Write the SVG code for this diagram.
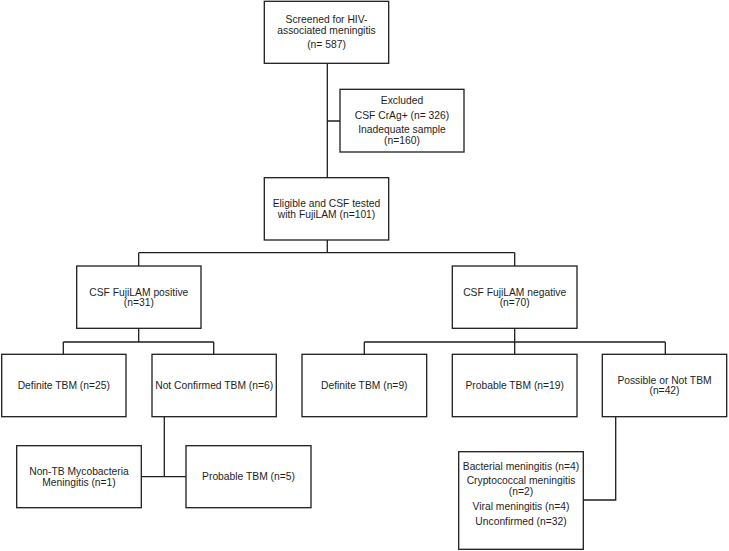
<svg xmlns="http://www.w3.org/2000/svg" width="729" height="551" viewBox="0 0 729 551">
<style>
.box{fill:#fff;stroke:#1e1e1e;stroke-width:1.3}
.ln{fill:none;stroke:#1e1e1e;stroke-width:1.3}
text{font-family:"Liberation Sans",Arial,sans-serif;font-size:10.3px;fill:#1e1e1e;text-anchor:middle}
</style>
<rect width="729" height="551" fill="#fff"/>
<g id="connectors">
<path class="ln" d="M327.3,63.3V177.7M327.3,121H340"/>
<path class="ln" d="M327.3,240V252.7M138.7,252.7H514.7M138.7,252.7V266M514.7,252.7V266"/>
<path class="ln" d="M138.7,328.3V342M63.3,342H213.7M63.3,342V354.3M213.7,342V354.3"/>
<path class="ln" d="M514.7,328.3V354.3M364.3,342H665.3M364.3,342V354.3M665.3,342V354.3"/>
<path class="ln" d="M164.3,416.7V476.7M141.3,476.7H186"/>
<path class="ln" d="M615.7,416.7V500H583.3"/>
</g>
<g id="screened">
<rect class="box" x="264.3" y="1.3" width="124.4" height="62"/>
<text x="326.5" y="23.3">Screened for HIV-</text>
<text x="326.5" y="34">associated meningitis</text>
<text x="326.5" y="48">(n= 587)</text>
</g>
<g id="excluded">
<rect class="box" x="340" y="89.3" width="124" height="62.7"/>
<text x="402" y="104">Excluded</text>
<text x="402" y="119.3">CSF CrAg+ (n= 326)</text>
<text x="402" y="133.3">Inadequate sample</text>
<text x="402" y="143.6">(n=160)</text>
</g>
<g id="eligible">
<rect class="box" x="264.3" y="177.7" width="124.4" height="62.3"/>
<text x="326.5" y="207.3">Eligible and CSF tested</text>
<text x="326.5" y="217.7">with FujiLAM (n=101)</text>
</g>
<g id="positive">
<rect class="box" x="76.7" y="266" width="124.3" height="62.3"/>
<text x="138.8" y="295.7">CSF FujiLAM positive</text>
<text x="138.8" y="305.9">(n=31)</text>
</g>
<g id="negative">
<rect class="box" x="452.3" y="266" width="124.7" height="62.3"/>
<text x="514.7" y="295.7">CSF FujiLAM negative</text>
<text x="514.7" y="305.9">(n=70)</text>
</g>
<g id="definite25">
<rect class="box" x="1.7" y="354.3" width="124.3" height="62.4"/>
<text x="63.8" y="389.3">Definite TBM (n=25)</text>
</g>
<g id="notconfirmed">
<rect class="box" x="152" y="354.3" width="124.3" height="62.4"/>
<text x="214.2" y="389.3">Not Confirmed TBM (n=6)</text>
</g>
<g id="definite9">
<rect class="box" x="302" y="354.3" width="124.7" height="62.4"/>
<text x="364.3" y="389.3">Definite TBM (n=9)</text>
</g>
<g id="probable19">
<rect class="box" x="452.3" y="354.3" width="124.7" height="62.4"/>
<text x="514.7" y="389.3">Probable TBM (n=19)</text>
</g>
<g id="possible">
<rect class="box" x="602.3" y="354.3" width="124.4" height="62.4"/>
<text x="664.5" y="383.7">Possible or Not TBM</text>
<text x="664.5" y="394.1">(n=42)</text>
</g>
<g id="nontb">
<rect class="box" x="16.7" y="445.7" width="124.6" height="62"/>
<text x="79" y="475.3">Non-TB Mycobacteria</text>
<text x="79" y="485.7">Meningitis (n=1)</text>
</g>
<g id="probable5">
<rect class="box" x="186" y="445.7" width="125" height="62"/>
<text x="248.5" y="480.3">Probable TBM (n=5)</text>
</g>
<g id="others">
<rect class="box" x="458.7" y="451.7" width="124.6" height="97.6"/>
<text x="521" y="469.7">Bacterial meningitis (n=4)</text>
<text x="521" y="484.3">Cryptococcal meningitis</text>
<text x="521" y="494.7">(n=2)</text>
<text x="521" y="509.7">Viral meningitis (n=4)</text>
<text x="521" y="524.7">Unconfirmed (n=32)</text>
</g>
</svg>
